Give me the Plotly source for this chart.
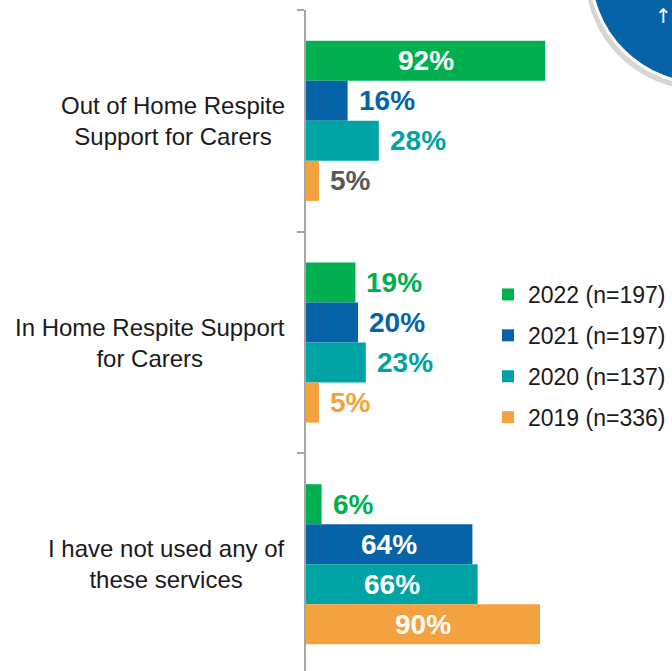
import plotly.graph_objects as go

# --- data -------------------------------------------------------------
categories = [
    "Out of Home Respite<br>Support for Carers",
    "In Home Respite Support<br>for Carers",
    "I have not used any of<br>these services",
]
series_names = ["2022 (n=197)", "2021 (n=197)", "2020 (n=137)", "2019 (n=336)"]
values_2022 = [92, 19, 6]
values_2021 = [16, 20, 64]
values_2020 = [28, 23, 66]
values_2019 = [5, 5, 90]
series_values = [values_2022, values_2021, values_2020, values_2019]

# --- styling ----------------------------------------------------------
colors = ["#00B050", "#0663A7", "#00A3A4", "#F4A13F"]
label_color_override = {(3, 0): "#595959"}  # (series, category) -> label colour
FONT = "Liberation Sans, Arial, sans-serif"
W, H = 672, 671
M_L, M_R, M_T, M_B = 306, 0, 10, 0
PX_PER_PCT = 2.6
INSIDE_THRESHOLD = 50
BARGAP = 0.278

plot_w = W - M_L - M_R
plot_h = H - M_T - M_B
band_px = 221.7
bar_px = band_px * (1 - BARGAP) / len(series_names)


def px_to_paper(px, py):
    return (px - M_L) / plot_w, (H - M_B - py) / plot_h


fig = go.Figure()
for j, (name, vals) in enumerate(zip(series_names, series_values)):
    fig.add_trace(go.Bar(
        name=name, y=categories, x=vals, orientation="h",
        marker=dict(color=colors[j], line=dict(width=0)),
        legendgroup=name, hoverinfo="skip",
    ))

annotations = []
# value labels: white inside long bars, coloured just past short bars
for j, vals in enumerate(series_values):
    for i, v in enumerate(vals):
        yshift = (1.5 - j) * bar_px
        if v >= INSIDE_THRESHOLD:
            annotations.append(dict(
                x=v / 2, y=categories[i], xref="x", yref="y", text=f"{v}%",
                showarrow=False, xanchor="center", yshift=yshift,
                font=dict(family=FONT, size=28, color="white", weight="bold"),
            ))
        else:
            annotations.append(dict(
                x=v, y=categories[i], xref="x", yref="y", text=f"{v}%",
                showarrow=False, xanchor="left", xshift=9, yshift=yshift,
                font=dict(family=FONT, size=28, weight="bold",
                          color=label_color_override.get((j, i), colors[j])),
            ))

# category labels: centred lines, block right-aligned next to the axis
label_x, _ = px_to_paper(287, 0)
for c in categories:
    annotations.append(dict(
        x=label_x, y=c, xref="paper", yref="y", text=c, showarrow=False,
        xanchor="right", align="center",
        font=dict(family=FONT, size=24, color="#1A1A1A"),
    ))

# badge in the top-right corner
cx, cy, r = 704, -30, 114
ax, ay = px_to_paper(663, 16)
annotations.append(dict(
    x=ax, y=ay, xref="paper", yref="paper", text="↑", showarrow=False,
    xanchor="center", yanchor="middle",
    font=dict(family="DejaVu Sans, Liberation Sans", size=20, color="white"),
))

sx0, sy1 = px_to_paper(cx - r - 5, cy - r + 2)
sx1, sy0 = px_to_paper(cx + r - 1, cy + r + 6)
bx0, by1 = px_to_paper(cx - r, cy - r)
bx1, by0 = px_to_paper(cx + r, cy + r)
shapes = [
    dict(type="circle", xref="paper", yref="paper", x0=sx0, x1=sx1, y0=sy0, y1=sy1,
         fillcolor="rgba(120,120,120,0.30)", line=dict(width=0)),
    dict(type="circle", xref="paper", yref="paper", x0=bx0, x1=bx1, y0=by0, y1=by1,
         fillcolor="#0663A7", line=dict(color="white", width=3)),
]

legend_x, legend_y = px_to_paper(488, 273)

fig.update_layout(
    width=W, height=H,
    margin=dict(l=M_L, r=M_R, t=M_T, b=M_B, pad=0),
    paper_bgcolor="white", plot_bgcolor="white",
    barmode="group", bargap=BARGAP, bargroupgap=0,
    font=dict(family=FONT, color="#1A1A1A"),
    xaxis=dict(range=[0, plot_w / PX_PER_PCT], visible=False, fixedrange=True),
    yaxis=dict(
        type="category", categoryorder="array", categoryarray=categories,
        range=[-0.5 + plot_h / band_px, -0.5],
        showline=True, linecolor="#A6A6A6", linewidth=2,
        ticks="outside", tickson="boundaries", ticklen=7,
        tickcolor="#A6A6A6", tickwidth=2,
        showticklabels=False, showgrid=False, zeroline=False,
    ),
    legend=dict(
        x=legend_x, y=legend_y, xanchor="left", yanchor="top",
        bgcolor="rgba(0,0,0,0)", traceorder="grouped", tracegroupgap=8,
        font=dict(family=FONT, size=23, color="#1A1A1A"),
    ),
    annotations=annotations,
    shapes=shapes,
    showlegend=True,
)

fig.write_html("out.html")
